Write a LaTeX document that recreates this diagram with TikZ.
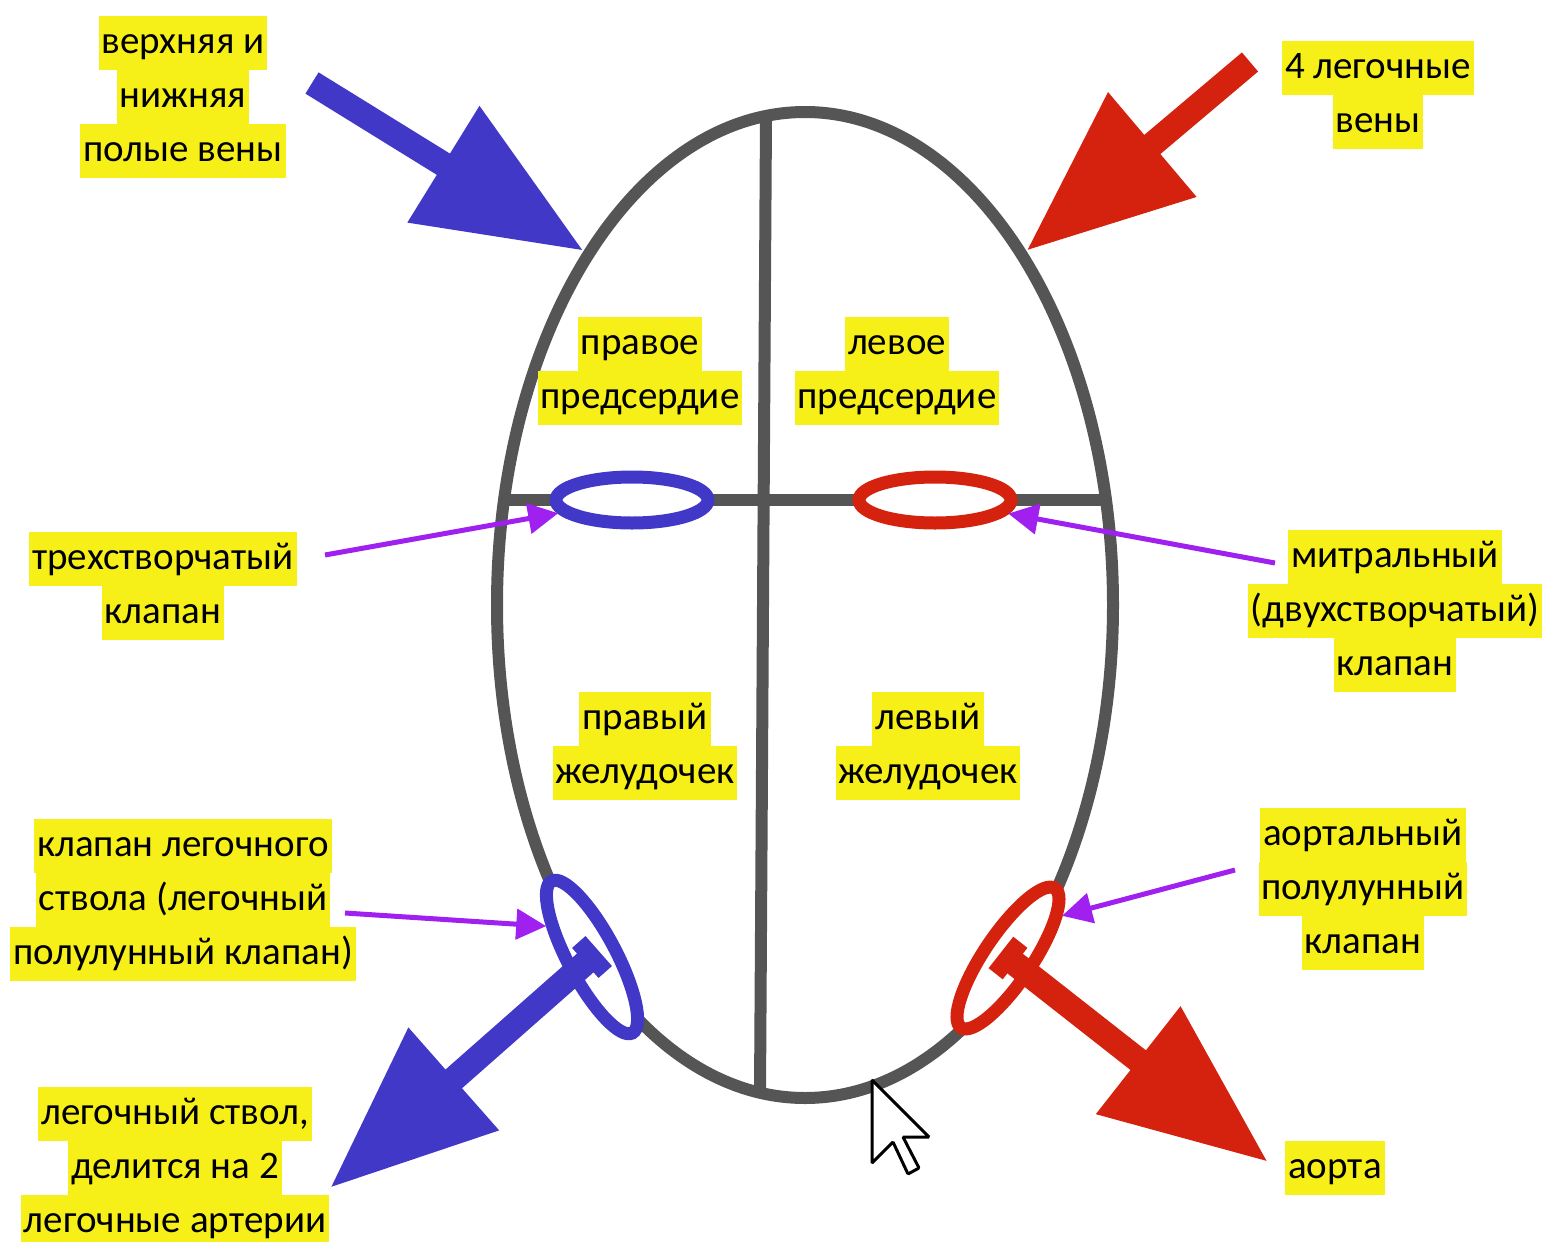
\documentclass[tikz,border=0pt]{standalone}
\usepackage{fontspec}
\setmainfont{Carlito}
\usepackage{tikz}
\usetikzlibrary{shapes.geometric,arrows.meta,calc}
\definecolor{wallGray}{RGB}{85,85,85}
\definecolor{veinBlue}{RGB}{66,56,200}
\definecolor{arteryRed}{RGB}{212,34,14}
\definecolor{pointerViolet}{RGB}{160,32,240}
\definecolor{markYellow}{RGB}{246,240,24}
\setlength{\fboxsep}{0pt}
\newcommand{\hl}[1]{\colorbox{markYellow}{\hspace{3pt}\strut#1\hspace{3pt}}}

\begin{document}
\begin{tikzpicture}[x=1pt,y=-1pt,
  wall/.style={draw=wallGray,line width=12pt},
  valve/.style={ellipse,draw=#1,line width=13pt,fill=white,inner sep=0pt,
                minimum width=152pt,minimum height=46pt},
  flow/.style={draw=#1,line width=25pt,-{Triangle[length=165pt,width=130pt]}},
  ptr/.style={draw=pointerViolet,line width=5pt,-{Triangle[length=30pt,width=30pt]}},
  lbl/.style={inner sep=0pt,align=center,font=\fontsize{39}{54}\selectfont}]
  \useasboundingbox (0,0) rectangle (1548,1242);

  % Contour et cloisons
  \node[ellipse,wall,inner sep=0pt,minimum width=616pt,minimum height=986pt] (heart) at (805,605) {};
  \draw[wall] (766,117) -- (760,1093);
  \draw[wall] (504,500) -- (1106,500);

  % Valves
  \node[valve=veinBlue] (tv) at (632,500) {};
  \node[valve=arteryRed] (mv) at (935,500) {};
  \node[valve=veinBlue,minimum width=172pt,minimum height=48pt,rotate=-62] (pv) at (592,957) {};
  \node[valve=arteryRed,minimum width=168pt,minimum height=48pt,rotate=56] (av) at (1008,958) {};

  % Grosses fleches
  \coordinate (venaT) at (312,83);
  \coordinate (pulmvT) at (1250,62);
  \coordinate (trunkH) at (330,1188);
  \coordinate (aortaH) at (1268,1162);
  \draw[flow=veinBlue] (venaT) -- (heart.122.5);
  \draw[flow=arteryRed] (pulmvT) -- (heart.58.3);
  \draw[flow=veinBlue] (pv.center) -- (trunkH);
  \draw[flow=arteryRed] (av.center) -- (aortaH);
  \draw[veinBlue,line width=18pt] ($(pv.center)!20pt!90:(trunkH)$) -- ($(pv.center)!20pt!-90:(trunkH)$);
  \draw[arteryRed,line width=18pt] ($(av.center)!20pt!90:(aortaH)$) -- ($(av.center)!20pt!-90:(aortaH)$);

  % Textes
  \node[lbl] (vena) at (183,97) {\hl{верхняя и}\\\hl{нижняя}\\\hl{полые вены}};
  \node[lbl] (pulmv) at (1378,95) {\hl{4 легочные}\\\hl{вены}};
  \node[lbl] (ra) at (640,371) {\hl{правое}\\\hl{предсердие}};
  \node[lbl] (la) at (897,371) {\hl{левое}\\\hl{предсердие}};
  \node[lbl] (trik) at (163,586) {\hl{трехстворчатый}\\\hl{клапан}};
  \node[lbl] (mitr) at (1395,611) {\hl{митральный}\\\hl{(двухстворчатый)}\\\hl{клапан}};
  \node[lbl] (rv) at (645,746) {\hl{правый}\\\hl{желудочек}};
  \node[lbl] (lv) at (928,746) {\hl{левый}\\\hl{желудочек}};
  \node[lbl] (pulmk) at (183,900) {\hl{клапан легочного}\\\hl{ствола (легочный}\\\hl{полулунный клапан)}};
  \node[lbl] (aortk) at (1363,889) {\hl{аортальный}\\\hl{полулунный}\\\hl{клапан}};
  \node[lbl] (trunk) at (175,1168) {\hl{легочный ствол,}\\\hl{делится на 2}\\\hl{легочные артерии}};
  \node[lbl] (aorta) at (1335,1168) {\hl{аорта}};

  % Fleches fines
  \coordinate (trikT) at (325,555);
  \coordinate (mitrT) at (1275,563);
  \coordinate (pulmkT) at (345,913);
  \coordinate (aortkT) at (1235,870);
  \draw[ptr] (trikT) -- (tv);
  \draw[ptr] (mitrT) -- (mv);
  \draw[ptr] (pulmkT) -- (pv.208);
  \draw[ptr] (aortkT) -- (av.-18);

  % Curseur
  \draw[black,fill=white,line width=3pt,rounded corners=1pt]
    (872,1080) -- ++(0,83) -- ++(21,-21) -- ++(15,32) -- ++(11,-6)
    -- ++(-16,-31) -- ++(26,0) -- cycle;
\end{tikzpicture}
\end{document}
